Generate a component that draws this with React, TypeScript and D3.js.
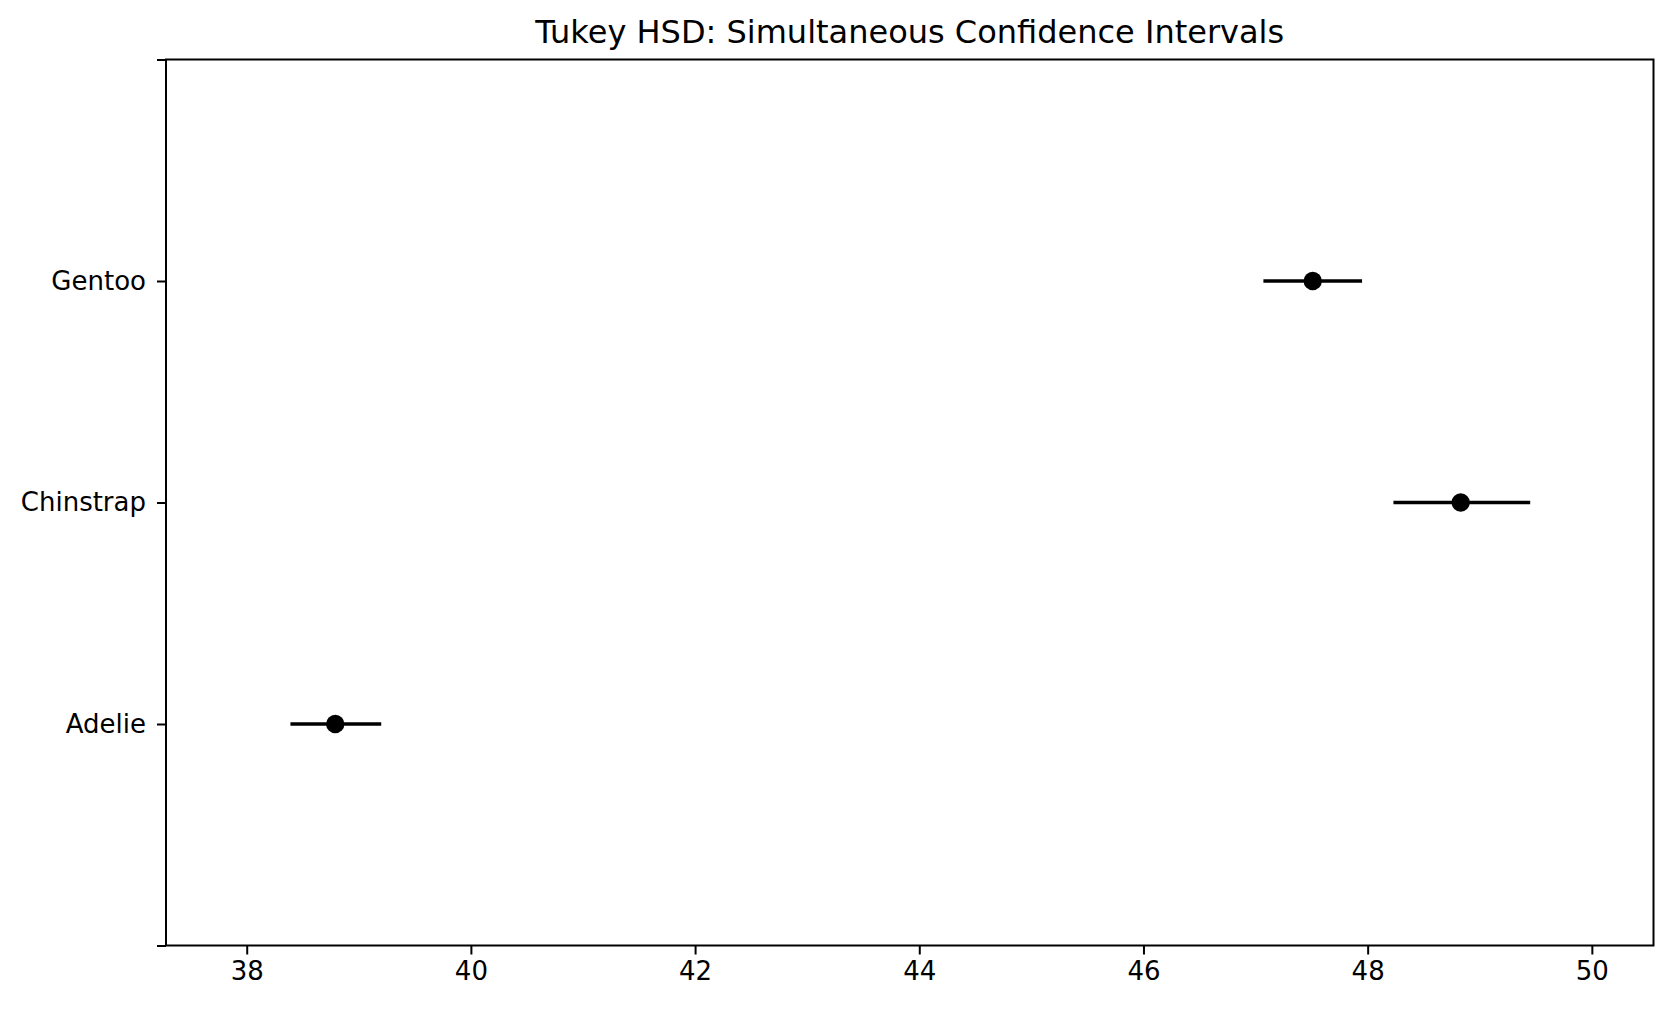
import React, { useEffect, useRef } from 'react';
import * as d3 from 'd3';

// Tukey HSD intervals (bill length, mm)
const groups = ["Adelie", "Chinstrap", "Gentoo"];
const means = [38.79, 48.83, 47.51];
const lower = [38.39, 48.23, 47.07];
const upper = [39.2, 49.45, 47.95];
const xTicks = [38, 40, 42, 44, 46, 48, 50];

const TukeyChart: React.FC = () => {
  const svgRef = useRef<SVGSVGElement>(null);

  useEffect(() => {
    document.body.style.margin = "0";
    if (!svgRef.current) return;

    const svg = d3.select(svgRef.current);
    svg.selectAll("*").remove();

    const width = 1673;
    const height = 1010;
    const margin = { top: 59.5, right: 19.5, bottom: 64.5, left: 166 };
    const innerWidth = width - margin.left - margin.right;
    const innerHeight = height - margin.top - margin.bottom;
    const font = "DejaVu Sans";

    const g = svg.append("g")
      .attr("transform", `translate(${margin.left},${margin.top})`);

    const xScale = d3.scaleLinear()
      .domain([37.28, 50.55])
      .range([0, innerWidth]);

    const yScale = d3.scaleLinear()
      .domain([-1, 3])
      .range([innerHeight, 0]);

    const data = groups.map((name, i) => ({ name, i, mean: means[i], lo: lower[i], hi: upper[i] }));

    // intervals
    g.selectAll("line.ci")
      .data(data)
      .join("line")
      .attr("class", "ci")
      .attr("x1", d => xScale(d.lo))
      .attr("x2", d => xScale(d.hi))
      .attr("y1", d => yScale(d.i))
      .attr("y2", d => yScale(d.i))
      .attr("stroke", "#000")
      .attr("stroke-width", 3.5);

    g.selectAll("circle.mean")
      .data(data)
      .join("circle")
      .attr("class", "mean")
      .attr("cx", d => xScale(d.mean))
      .attr("cy", d => yScale(d.i))
      .attr("r", 9.2)
      .attr("fill", "#000");

    // X axis
    const xAxis = g.append("g")
      .attr("transform", `translate(0,${innerHeight})`)
      .call(d3.axisBottom(xScale).tickValues(xTicks).tickSize(9).tickPadding(7).tickFormat(d => `${d}`));
    xAxis.select(".domain").remove();
    xAxis.selectAll("line").attr("stroke", "#000").attr("stroke-width", 2);
    xAxis.selectAll("text")
      .attr("fill", "#000")
      .style("font-family", font)
      .style("font-size", "26px");

    // Y axis
    const yAxis = g.append("g")
      .call(d3.axisLeft(yScale)
        .tickValues([-1, 0, 1, 2, 3])
        .tickSize(9)
        .tickPadding(11)
        .tickFormat(d => (groups[d as number] ?? "")));
    yAxis.select(".domain").remove();
    yAxis.selectAll("line").attr("stroke", "#000").attr("stroke-width", 2);
    yAxis.selectAll("text")
      .attr("fill", "#000")
      .style("font-family", font)
      .style("font-size", "26px");

    // frame
    g.append("rect")
      .attr("width", innerWidth)
      .attr("height", innerHeight)
      .attr("fill", "none")
      .attr("stroke", "#000")
      .attr("stroke-width", 2);

    // Title
    g.append("text")
      .attr("x", innerWidth / 2)
      .attr("y", -17)
      .attr("text-anchor", "middle")
      .style("font-family", font)
      .style("font-size", "32px")
      .style("fill", "#000")
      .text("Tukey HSD: Simultaneous Confidence Intervals");
  }, []);

  return (
    <svg ref={svgRef} width={1673} height={1010} viewBox="0 0 1673 1010" style={{ display: "block", background: "#fff" }} />
  );
};

export default function App() {
  return <TukeyChart />;
}
